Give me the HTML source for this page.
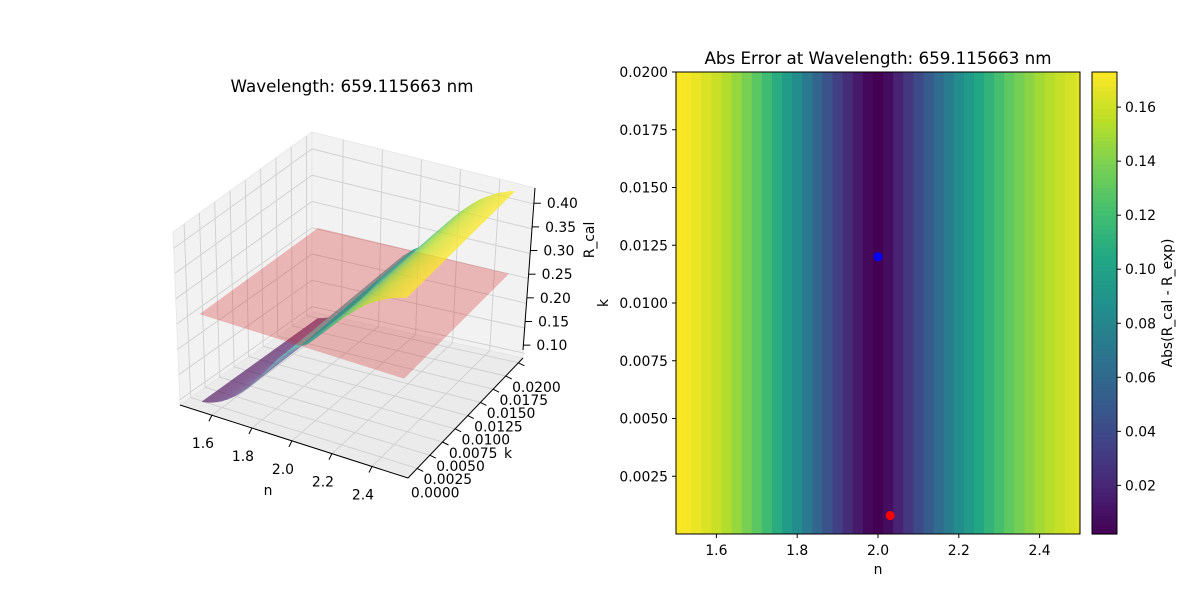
<!DOCTYPE html>
<html><head><meta charset="utf-8"><style>
html,body{margin:0;padding:0;background:#fff;}
svg{display:block;font-family:"DejaVu Sans","Liberation Sans",sans-serif;}
</style></head><body>
<svg id="fig" width="1200" height="600" viewBox="0 0 1200 600" xmlns="http://www.w3.org/2000/svg">
<defs><clipPath id="hmclip"><rect x="676" y="72" width="404" height="462"/></clipPath></defs>
<g id="left3d"></g>
<g id="right"></g>
</svg>
<script>
const nVals=[1.5,1.525,1.55,1.575,1.6,1.625,1.65,1.675,1.7,1.725,1.75,1.775,1.8,1.825,1.85,1.875,1.9,1.925,1.95,1.975,2.0,2.025,2.05,2.075,2.1,2.125,2.15,2.175,2.2,2.225,2.25,2.275,2.3,2.325,2.35,2.375,2.4,2.425,2.45,2.475,2.5];
const errVals=[0.173,0.171,0.168,0.164,0.159,0.153,0.146,0.138,0.129,0.119,0.108,0.096,0.084,0.071,0.058,0.045,0.034,0.024,0.014,0.006,0.002,0.008,0.018,0.029,0.040,0.051,0.062,0.073,0.084,0.094,0.104,0.113,0.122,0.130,0.137,0.143,0.149,0.154,0.158,0.162,0.165];
const rExp=[0.262];
const bestPoint=[2.0,0.012];
const truePoint=[2.03,0.0008];
const nTicks=[1.6,1.8,2.0,2.2,2.4];
const kTicks3d=[0,0.0025,0.005,0.0075,0.01,0.0125,0.015,0.0175,0.02];
const zTicks=[0.10,0.15,0.20,0.25,0.30,0.35,0.40];
const kTicksHm=[0.0025,0.005,0.0075,0.01,0.0125,0.015,0.0175,0.02];
const cbTicks=[0.02,0.04,0.06,0.08,0.10,0.12,0.14,0.16];

const NS='http://www.w3.org/2000/svg';
function mk(parent,tag,attrs,text){const e=document.createElementNS(NS,tag);for(const k in attrs)e.setAttribute(k,attrs[k]);if(text!==undefined)e.textContent=text;parent.appendChild(e);return e;}
const VIR=[[68,1,84],[72,36,117],[65,68,135],[53,95,141],[42,120,142],[33,145,140],[34,168,132],[68,191,112],[122,209,81],[189,223,38],[253,231,37]];
function viridis(t){t=Math.max(0,Math.min(1,t));const p=t*10,i=Math.min(9,Math.floor(p)),f=p-i;const a=VIR[i],b=VIR[i+1];return 'rgb('+a.map((v,j)=>Math.round(v+(b[j]-v)*f)).join(',')+')';}

/* ---------- 3D panel ---------- */
const L=document.getElementById('left3d');
const C={p000:[180,405],p100:[408,478],p110:[523,358],p010:[312,312],p001:[173,232],p101:[414,310],p111:[535,188],p011:[312,132]};
function fu(n){return 0.14+(n-1.6)*0.8775;}
function fv(k){return 0.08+k/0.02*0.88;}
function fw(z){return 0.03+(z-0.1)*2.92;}
function tri(u,v,w){const r=[0,0];for(const key in C){const a=+key[1],b=+key[2],c=+key[3];const wt=(a?u:1-u)*(b?v:1-v)*(c?w:1-w);r[0]+=wt*C[key][0];r[1]+=wt*C[key][1];}return r;}
function P(n,k,z){return tri(fu(n),fv(k),fw(z));}
function pts(arr){return arr.map(p=>p[0].toFixed(1)+','+p[1].toFixed(1)).join(' ');}
const pane={fill:'#f2f2f2',stroke:'#e6e6e6','stroke-width':0.8};
let e=mk(L,'polygon',Object.assign({points:pts([C.p000,C.p010,C.p011,C.p001])},pane));

e=mk(L,'polygon',Object.assign({points:pts([C.p010,C.p110,C.p111,C.p011])},pane));

e=mk(L,'polygon',Object.assign({points:pts([C.p000,C.p100,C.p110,C.p010]),fill:'#ebebeb'},{stroke:'#e6e6e6'}));

const G=mk(L,'g',{stroke:'#cfcfcf','stroke-width':0.9,fill:'none'});

nTicks.forEach(n=>{const u=fu(n);mk(G,'polyline',{points:pts([tri(u,0,0),tri(u,1,0),tri(u,1,1)])});});
kTicks3d.forEach(k=>{const v=fv(k);mk(G,'polyline',{points:pts([tri(1,v,0),tri(0,v,0),tri(0,v,1)])});});
zTicks.forEach(z=>{const w=fw(z);mk(G,'polyline',{points:pts([tri(0,0,w),tri(0,1,w),tri(1,1,w)])});});
const rCal=nVals.map((n,i)=>rExp[0]+(n<2?-1:1)*errVals[i]);
const rmin=Math.min(...rCal),rmax=Math.max(...rCal);
const surfLow=mk(L,'g',{opacity:0.6});
const planeG=mk(L,'g',{});
const surfHigh=mk(L,'g',{opacity:0.75});
for(let i=0;i<nVals.length-1;i++){
  const n0=nVals[i],n1=nVals[i+1],z0=rCal[i],z1=rCal[i+1];
  const col=viridis(((z0+z1)/2-rmin)/(rmax-rmin));
  const q=mk(n0<2?surfLow:surfHigh,'polygon',{points:pts([P(n0,0,z0),P(n1,0,z1),P(n1,0.02,z1),P(n0,0.02,z0)]),fill:col,stroke:col,'stroke-width':0.8,'stroke-linejoin':'round'});
  
  
}
e=mk(planeG,'polygon',{points:pts([P(1.5,0,rExp[0]),P(2.5,0,rExp[0]),P(2.5,0.02,rExp[0]),P(1.5,0.02,rExp[0])]),fill:'#d62728','fill-opacity':0.3});

const AX=mk(L,'g',{stroke:'#000','stroke-width':1,fill:'none'});

mk(AX,'line',{x1:C.p000[0],y1:C.p000[1],x2:C.p100[0],y2:C.p100[1]});
mk(AX,'line',{x1:C.p100[0],y1:C.p100[1],x2:C.p110[0],y2:C.p110[1]});
mk(AX,'line',{x1:C.p110[0],y1:C.p110[1]-8,x2:C.p111[0],y2:C.p111[1]});
const T=mk(L,'g',{'font-size':'13.9px',fill:'#000'});
nTicks.forEach(n=>{const p=tri(fu(n),0,0);mk(AX,'line',{x1:p[0],y1:p[1],x2:p[0]-3,y2:p[1]+6});
  const t=mk(T,'text',{x:p[0]-9,y:p[1]+33,'text-anchor':'middle'},n.toFixed(1));});
kTicks3d.forEach(k=>{const p=tri(1,fv(k),0);mk(AX,'line',{x1:p[0],y1:p[1],x2:p[0]+6,y2:p[1]+3});
  const t=mk(T,'text',{x:p[0]+18,y:p[1]+29,'text-anchor':'middle'},k.toFixed(4));});
zTicks.forEach(z=>{const w=fw(z);const p=[C.p110[0]+(C.p111[0]-C.p110[0])*w+3,C.p110[1]-8+(C.p111[1]-C.p110[1]+8)*w];mk(AX,'line',{x1:p[0]-3,y1:p[1],x2:p[0]+4,y2:p[1]});
  const t=mk(T,'text',{x:p[0]+10,y:p[1]+5,'text-anchor':'start'},z.toFixed(2));});
e=mk(T,'text',{x:268,y:495,'text-anchor':'middle'},'n');
e=mk(T,'text',{x:508,y:458,'text-anchor':'middle'},'k');
e=mk(T,'text',{x:0,y:0,'text-anchor':'middle',transform:'translate(594,240) rotate(-90)'},'R_cal');
e=mk(L,'text',{x:352,y:92,'text-anchor':'middle','font-size':'16.7px'},'Wavelength: 659.115663 nm');

/* ---------- Heatmap ---------- */
const R=document.getElementById('right');
const X0=676,X1=1080,Y0=72,Y1=534,nMin=1.5,nMax=2.5,kMax=0.02;
const vmin=0.002,vmax=0.173;
function xs(n){return X0+(n-nMin)/(nMax-nMin)*(X1-X0);}
function ys(k){return Y1-k/kMax*(Y1-Y0);}
const cells=mk(R,'g',{'clip-path':'url(#hmclip)'});

const dn=nVals[1]-nVals[0];
nVals.forEach((n,i)=>{const c=viridis((errVals[i]-vmin)/(vmax-vmin));
  const r=mk(cells,'rect',{x:xs(n-dn/2),y:Y0,width:xs(n+dn/2)-xs(n-dn/2)+0.6,height:Y1-Y0,fill:c});
  });
e=mk(R,'rect',{x:X0,y:Y0,width:X1-X0,height:Y1-Y0,fill:'none',stroke:'#000','stroke-width':1});

let d=mk(R,'circle',{cx:xs(bestPoint[0]),cy:ys(bestPoint[1]),r:4.5,fill:'#0000ff'});

d=mk(R,'circle',{cx:xs(truePoint[0]),cy:ys(truePoint[1]),r:4.5,fill:'#ff0000'});

const HT=mk(R,'g',{'font-size':'13.9px',fill:'#000'});
nTicks.forEach(n=>{const x=xs(n);mk(R,'line',{x1:x,y1:Y1,x2:x,y2:Y1+4,stroke:'#000'});
  const t=mk(HT,'text',{x:x,y:Y1+21,'text-anchor':'middle'},n.toFixed(1));});
kTicksHm.forEach(k=>{const y=ys(k);mk(R,'line',{x1:X0-4,y1:y,x2:X0,y2:y,stroke:'#000'});
  const t=mk(HT,'text',{x:X0-8,y:y+5,'text-anchor':'end'},k.toFixed(4));});
e=mk(HT,'text',{x:878,y:574,'text-anchor':'middle'},'n');
e=mk(HT,'text',{x:0,y:0,'text-anchor':'middle',transform:'translate(608,303) rotate(-90)'},'k');
e=mk(R,'text',{x:878,y:64,'text-anchor':'middle','font-size':'16.7px'},'Abs Error at Wavelength: 659.115663 nm');
const CB0=1092,CB1=1117;
function cy(v){return Y1-(v-vmin)/(vmax-vmin)*(Y1-Y0);}
const cb=mk(R,'g',{});
for(let i=0;i<100;i++){const y=Y1-(i+1)*(Y1-Y0)/100;mk(cb,'rect',{x:CB0,y:y,width:CB1-CB0,height:(Y1-Y0)/100+0.6,fill:viridis((i+0.5)/100)});}
mk(cb,'rect',{x:CB0,y:Y0,width:CB1-CB0,height:Y1-Y0,fill:'none',stroke:'#000','stroke-width':1});
cbTicks.forEach(v=>{const y=cy(v);mk(cb,'line',{x1:CB1,y1:y,x2:CB1+4,y2:y,stroke:'#000'});
  const t=mk(HT,'text',{x:CB1+8,y:y+5,'text-anchor':'start'},v.toFixed(2));});
e=mk(HT,'text',{x:0,y:0,'text-anchor':'middle',transform:'translate(1172,303) rotate(-90)'},'Abs(R_cal - R_exp)');
</script>
</body></html>
